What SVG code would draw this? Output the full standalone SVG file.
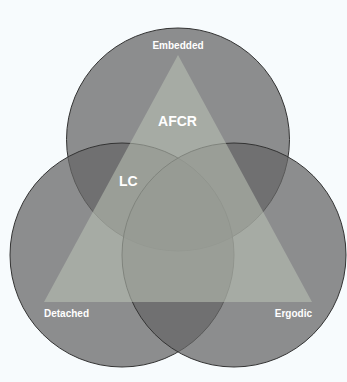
<svg xmlns="http://www.w3.org/2000/svg" width="347" height="382" viewBox="0 0 347 382">
<style>
.c{fill:#666666;fill-opacity:0.74;stroke:#333333;stroke-width:1}
.t{fill:#bac1b5;fill-opacity:0.57}
.l{font-family:"Liberation Sans",Arial,sans-serif;font-weight:bold;fill:#ffffff}
</style>
<rect width="347" height="382" fill="#f7fbfd"/>
<g id="circles">
<circle id="top" class="c" cx="178" cy="139.5" r="111.5"/>
<circle id="left" class="c" cx="122" cy="255" r="112"/>
<circle id="right" class="c" cx="234" cy="255" r="112"/>
</g>
<g id="triangle">
<polygon class="t" points="178,55 312,302 44,302"/>
</g>
<g id="labels">
<text class="l" x="178" y="49" font-size="10" text-anchor="middle">Embedded</text>
<text class="l" x="44" y="316.5" font-size="10">Detached</text>
<text class="l" x="312" y="316.5" font-size="10" text-anchor="end">Ergodic</text>
<text class="l" x="177.5" y="126" font-size="14" text-anchor="middle">AFCR</text>
<text class="l" x="119" y="186" font-size="14">LC</text>
</g>
</svg>
